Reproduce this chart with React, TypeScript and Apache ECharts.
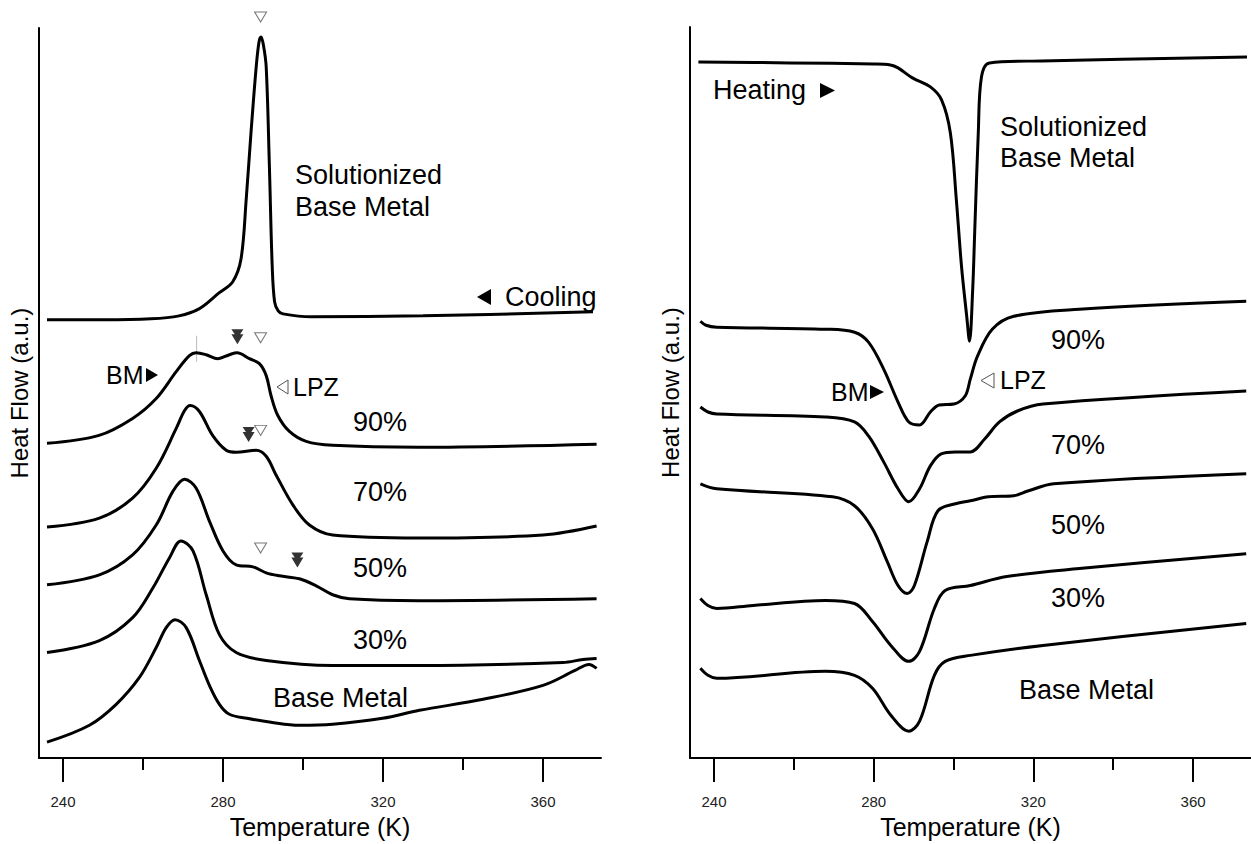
import React, { useEffect, useRef } from "react";
import * as echarts from "echarts";

// Temperature axis (K)
const T_MIN = 234;
const T_MAX = 374.5;
const MAJOR_TICKS = [240, 280, 320, 360];
const MINOR_TICKS = [260, 300, 340];
// Heat flow (a.u.), stacked curves share one vertical scale
const HF_MAX = 733;

// Cooling scans [T (K), heat flow (a.u.) incl. stacking offset]
const coolSolutionized = [
  [236, 440], [250, 440], [262, 441], [269, 444], [274, 451], [279, 467], [282.4, 478],
  [284.5, 501], [285.8, 561], [287, 628], [288.3, 694], [289, 719], [289.5, 724], [290.1, 716],
  [290.8, 694], [291.6, 594], [292.3, 494], [292.9, 458], [293.8, 449], [295, 446], [302, 443],
  [330, 444], [372.5, 448],
];
const cool90 = [
  [236, 316], [249, 324], [257.4, 341], [263.3, 361], [268.3, 388], [271.6, 404], [273.3, 407],
  [275.8, 405], [278.7, 401], [281.6, 405], [283.5, 407], [286.6, 401], [289.1, 396], [290.8, 384],
  [292, 364], [293.7, 344], [296.6, 328], [300.8, 318], [307.4, 314], [329, 312], [373.4, 315],
];
const cool70 = [
  [236, 232], [249.1, 241], [257.4, 261], [263.3, 291], [268.3, 331], [270.4, 349], [271.8, 354],
  [274.1, 348], [277.4, 324], [280.8, 309], [283.3, 307], [288.3, 309], [290.8, 303], [293.3, 284],
  [297.5, 254], [301.6, 234], [307.4, 224], [329, 221], [360, 224], [373.4, 233],
];
const cool50 = [
  [236, 174], [249.1, 184], [257.4, 204], [263.3, 234], [267.5, 268], [270.4, 280], [273.3, 271],
  [276.6, 238], [280, 208], [283.3, 194], [287.5, 192], [290.8, 186], [294.1, 183], [299.1, 180],
  [303.3, 173], [307.4, 164], [311.6, 160], [329, 158], [373.4, 160],
];
const cool30 = [
  [236, 106], [249.1, 118], [257.4, 141], [262.5, 171], [266.6, 201], [269.5, 218], [272.5, 208],
  [275.8, 164], [279.1, 124], [283.3, 106], [290.8, 98], [307.4, 93], [329, 93], [365, 96],
  [370, 99], [373.4, 100],
];
const coolBase = [
  [236, 16], [246.6, 33], [253.3, 54], [259.1, 81], [263.3, 111], [265.8, 131], [268, 139],
  [270.8, 131], [274.1, 98], [276.6, 73], [279.1, 54], [281.6, 44], [286, 40], [292, 36],
  [299.1, 33], [307.4, 34], [319.9, 40], [329.1, 48], [345, 59], [360, 73], [368, 88],
  [371.5, 94], [373.4, 90],
];

// Heating scans [T (K), heat flow (a.u.) incl. stacking offset]
const heatSolutionized = [
  [236.1, 698], [259, 697], [280, 696], [284.2, 695], [286.1, 692], [289.7, 682], [294.2, 673],
  [297, 660], [299.2, 627], [300.7, 560], [302, 493], [303.3, 443], [304, 418], [304.8, 470],
  [305.3, 527], [306.2, 627], [307, 683], [309, 697], [322, 699], [373.5, 703],
];
const heat90 = [
  [236.6, 438], [238, 434], [240.7, 432], [267.9, 430], [275.2, 427], [278.7, 417], [282.5, 390],
  [286.1, 357], [288.8, 337], [291.5, 334], [294.2, 347], [296.4, 354], [300.1, 355], [302.9, 363],
  [304.2, 380], [306, 403], [309.7, 430], [315.1, 443], [331.5, 450], [373.3, 458],
];
const heat70 = [
  [236.6, 352], [238.5, 347], [240.7, 345], [267.9, 342], [275.2, 337], [278.7, 323], [282.5, 297],
  [286.1, 270], [288.8, 257], [291.5, 270], [294.2, 293], [296.9, 305], [300.5, 307], [304.2, 307],
  [307.8, 320], [311.5, 337], [316, 348], [322.4, 355], [373.3, 368],
];
const heat50 = [
  [236.6, 275], [240.7, 270], [269.7, 262], [275.2, 253], [279.7, 230], [283.4, 197], [286.1, 173],
  [288.4, 165], [290.2, 173], [293.4, 217], [296.1, 248], [300.5, 255], [304.2, 258], [308.8, 262],
  [315.1, 263], [318.8, 268], [325.1, 275], [373.3, 285],
];
const heat30 = [
  [236.6, 160], [238.5, 153], [240.7, 150], [249.8, 153], [267.9, 158], [275.2, 155], [279.7, 137],
  [284.3, 113], [288.8, 97], [291.5, 107], [295.2, 150], [297.9, 168], [304.2, 173], [313.3, 182],
  [331.5, 190], [373.3, 205],
];
const heatBase = [
  [236.6, 90], [238.5, 83], [240.7, 80], [267.9, 87], [275.2, 83], [279.7, 70], [284.3, 43],
  [288.8, 27], [291.5, 37], [295.2, 83], [297.9, 97], [304.2, 103], [322.4, 113], [373.3, 135],
];

// Transformation markers on the cooling curves
const lpzMarks = [[289.4, 744], [289.4, 422], [289.4, 329], [289.4, 211]];
const bmMarks = [[283.6, 423], [286.4, 325], [298.6, 199]];
const refTick = [[273.4, 398], [273.4, 424]];

const FONT = '"Liberation Sans", Arial, Helvetica, sans-serif';
const INK = "#000";

function label(text: string, x: number, y: number, size = 27) {
  return {
    type: "text",
    x,
    y,
    silent: true,
    style: { text, fill: INK, fontSize: size, fontFamily: FONT, verticalAlign: "middle", align: "left" },
  };
}
function solidTri(points: number[][]) {
  return { type: "polygon", silent: true, shape: { points }, style: { fill: INK } };
}
function openTri(points: number[][]) {
  return { type: "polygon", silent: true, shape: { points }, style: { fill: "#fff", stroke: "#555", lineWidth: 1 } };
}

function tempAxes(gridIndex: number) {
  const base = {
    type: "value",
    gridIndex,
    min: T_MIN,
    max: T_MAX,
    position: "bottom",
    splitLine: { show: false },
  };
  return [
    {
      ...base,
      name: "Temperature (K)",
      nameLocation: "middle",
      nameGap: 55,
      nameTextStyle: { fontSize: 25, fontFamily: FONT, color: INK },
      axisLine: { show: true, lineStyle: { color: INK, width: 2 } },
      axisTick: { show: true, customValues: MAJOR_TICKS, length: 24, lineStyle: { color: INK, width: 2 } },
      axisLabel: { show: true, customValues: MAJOR_TICKS, margin: 36, fontSize: 15, fontFamily: FONT, color: "#222" },
    },
    {
      ...base,
      axisLine: { show: false },
      axisTick: { show: true, customValues: MINOR_TICKS, length: 12, lineStyle: { color: INK, width: 2 } },
      axisLabel: { show: false },
    },
  ];
}

function heatAxis(gridIndex: number) {
  return {
    type: "value",
    gridIndex,
    min: 0,
    max: HF_MAX,
    name: "Heat Flow (a.u.)",
    nameLocation: "middle",
    nameGap: 8,
    nameTextStyle: { fontSize: 24, fontFamily: FONT, color: INK },
    axisLine: { show: true, lineStyle: { color: INK, width: 2 } },
    axisTick: { show: false },
    axisLabel: { show: false },
    splitLine: { show: false },
  };
}

function curve(name: string, data: number[][], xAxisIndex: number, yAxisIndex: number) {
  return {
    name,
    type: "line",
    xAxisIndex,
    yAxisIndex,
    data,
    showSymbol: false,
    symbol: "none",
    smooth: 0.35,
    lineStyle: { color: INK, width: 3 },
    z: 2,
  };
}

export default function App() {
  const ref = useRef<HTMLDivElement>(null);

  useEffect(() => {
    if (!ref.current) return;
    const chart = echarts.init(ref.current, null, { renderer: "svg" });
    chart.setOption({
      animation: false,
      backgroundColor: "#fff",
      grid: [
        { left: 39, top: 28, width: 562, height: 733 },
        { left: 690, top: 27, width: 561, height: 733 },
      ],
      xAxis: [...tempAxes(0), ...tempAxes(1)],
      yAxis: [heatAxis(0), heatAxis(1)],
      series: [
        curve("Solutionized Base Metal (cooling)", coolSolutionized, 0, 0),
        curve("90% (cooling)", cool90, 0, 0),
        curve("70% (cooling)", cool70, 0, 0),
        curve("50% (cooling)", cool50, 0, 0),
        curve("30% (cooling)", cool30, 0, 0),
        curve("Base Metal (cooling)", coolBase, 0, 0),
        curve("Solutionized Base Metal (heating)", heatSolutionized, 2, 1),
        curve("90% (heating)", heat90, 2, 1),
        curve("70% (heating)", heat70, 2, 1),
        curve("50% (heating)", heat50, 2, 1),
        curve("30% (heating)", heat30, 2, 1),
        curve("Base Metal (heating)", heatBase, 2, 1),
        {
          name: "reference",
          type: "line",
          xAxisIndex: 0,
          yAxisIndex: 0,
          data: refTick,
          symbol: "none",
          lineStyle: { color: "#bbb", width: 1 },
          z: 1,
        },
        {
          name: "LPZ",
          type: "scatter",
          xAxisIndex: 0,
          yAxisIndex: 0,
          data: lpzMarks,
          clip: false,
          symbol: "triangle",
          symbolRotate: 180,
          symbolSize: [12, 10],
          itemStyle: { color: "#fff", borderColor: "#555", borderWidth: 1 },
          z: 3,
        },
        {
          name: "BM",
          type: "scatter",
          xAxisIndex: 0,
          yAxisIndex: 0,
          data: bmMarks,
          clip: false,
          symbol: "path://M0,0L12,0L6,9Z M0,5L12,5L6,15Z",
          symbolSize: [12, 15],
          itemStyle: { color: INK },
          z: 3,
        },
      ],
      graphic: [
        // cooling panel
        label("Solutionized", 295, 175),
        label("Base Metal", 295, 207),
        solidTri([[477, 297], [491, 289], [491, 305]]),
        label("Cooling", 505, 297),
        label("BM", 106, 375, 25),
        solidTri([[146, 368], [146, 382], [158, 375]]),
        openTri([[288, 380], [288, 394], [277, 387]]),
        label("LPZ", 293, 387, 25),
        label("90%", 353, 422),
        label("70%", 353, 492),
        label("50%", 353, 568),
        label("30%", 353, 640),
        label("Base Metal", 273, 698),
        // heating panel
        label("Heating", 713, 90),
        solidTri([[820, 83], [820, 98], [835, 90.5]]),
        label("Solutionized", 1000, 127),
        label("Base Metal", 1000, 158),
        label("90%", 1051, 340),
        label("BM", 831, 392, 25),
        solidTri([[870, 385], [870, 399], [884, 392]]),
        openTri([[994, 373], [994, 388], [981, 380.5]]),
        label("LPZ", 1000, 380, 25),
        label("70%", 1051, 445),
        label("50%", 1051, 525),
        label("30%", 1051, 598),
        label("Base Metal", 1019, 690),
      ],
    });
    return () => chart.dispose();
  }, []);

  return (
    <div
      ref={ref}
      style={{ position: "absolute", left: 0, top: 0, width: 1251, height: 844, background: "#fff" }}
    />
  );
}
